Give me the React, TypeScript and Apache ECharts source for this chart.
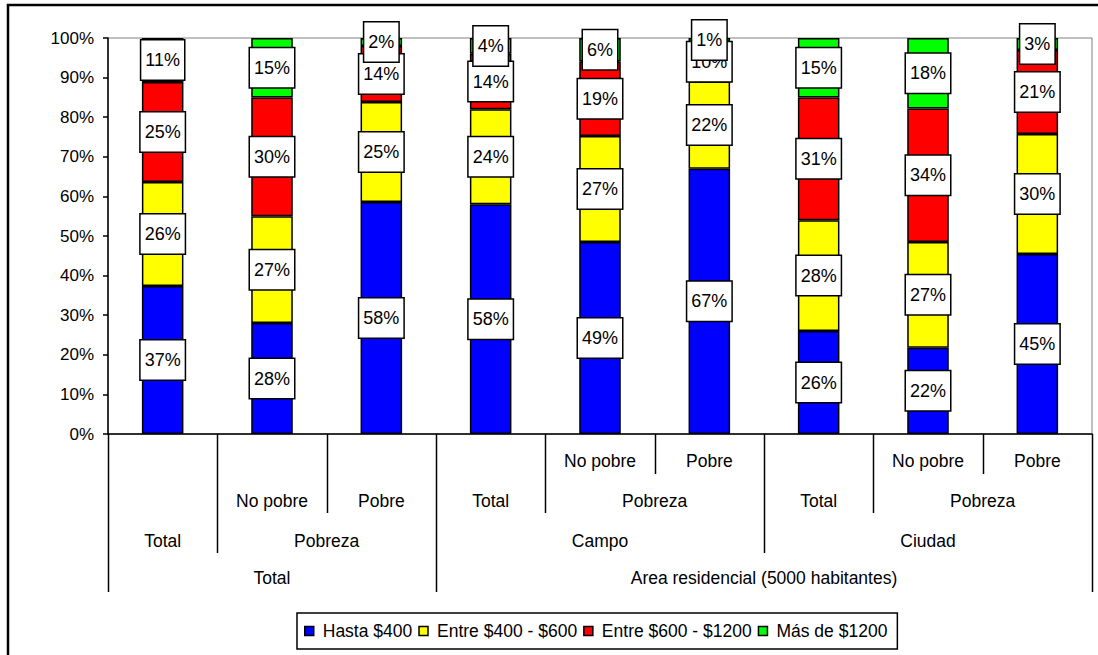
import React, { useEffect, useRef } from "react";
import * as echarts from "echarts";

// Leaf categories (one bar each), listed left to right
const categories = [
  "Total · Total",
  "Total · Pobreza · No pobre",
  "Total · Pobreza · Pobre",
  "Campo · Total",
  "Campo · Pobreza · No pobre",
  "Campo · Pobreza · Pobre",
  "Ciudad · Total",
  "Ciudad · Pobreza · No pobre",
  "Ciudad · Pobreza · Pobre",
];

const seriesNames = ["Hasta $400", "Entre $400 - $600", "Entre $600 - $1200", "Más de $1200"];

// Percent of households per income bracket
const hasta400 = [37, 28, 58, 58, 49, 67, 26, 22, 45];
const entre400y600 = [26, 27, 25, 24, 27, 22, 28, 27, 30];
const entre600y1200 = [25, 30, 14, 14, 19, 10, 31, 34, 21];
const masDe1200 = [11, 15, 2, 4, 6, 1, 15, 18, 3];

const yTicks = [0, 10, 20, 30, 40, 50, 60, 70, 80, 90, 100];

// Hierarchical category labels, row by row from the axis downwards: [text, firstIndex, lastIndex]
const labelRow1: [string, number, number][] = [
  ["No pobre", 4, 4],
  ["Pobre", 5, 5],
  ["No pobre", 7, 7],
  ["Pobre", 8, 8],
];
const labelRow2: [string, number, number][] = [
  ["No pobre", 1, 1],
  ["Pobre", 2, 2],
  ["Total", 3, 3],
  ["Pobreza", 4, 5],
  ["Total", 6, 6],
  ["Pobreza", 7, 8],
];
const labelRow3: [string, number, number][] = [
  ["Total", 0, 0],
  ["Pobreza", 1, 2],
  ["Campo", 3, 5],
  ["Ciudad", 6, 8],
];
const labelRow4: [string, number, number][] = [
  ["Total", 0, 2],
  ["Area residencial (5000 habitantes)", 3, 8],
];
// How many label rows each category boundary line reaches down through
const boundaryDepth = [4, 3, 2, 4, 2, 1, 3, 2, 1, 4];

const colors = ["#0000FF", "#FFFF00", "#FF0000", "#00FF00"];
const FONT = '"Liberation Sans", Arial, sans-serif';

export default function App() {
  const ref = useRef<HTMLDivElement>(null);

  useEffect(() => {
    if (!ref.current) return;
    const chart = echarts.init(ref.current, null, { renderer: "svg" });

    const raw = [hasta400, entre400y600, entre600y1200, masDe1200];
    const totals = categories.map((_, i) => raw.reduce((s, arr) => s + arr[i], 0));

    const series = raw.map((arr, si) => ({
      name: seriesNames[si],
      type: "bar",
      stack: "total",
      barWidth: "38%",
      itemStyle: { color: colors[si], borderColor: "#000", borderWidth: 1.5 },
      label: {
        show: true,
        position: "inside",
        color: "#000",
        fontSize: 18,
        fontFamily: FONT,
        backgroundColor: "#fff",
        borderColor: "#000",
        borderWidth: 1.5,
        padding: [11, 4, 10, 4],
        formatter: (p: any) => `${p.data.raw}%`,
      },
      data: arr.map((v, i) => ({ value: (v / totals[i]) * 100, raw: v })),
    }));

    chart.setOption({
      animation: false,
      backgroundColor: "#fff",
      grid: {
        left: 108,
        right: 6,
        top: 38,
        bottom: 221,
        show: true,
        borderColor: "#808080",
        borderWidth: 1,
        backgroundColor: "transparent",
      },
      legend: {
        data: seriesNames,
        left: 297,
        top: 613,
        icon: "rect",
        itemWidth: 9,
        itemHeight: 9,
        itemGap: 6,
        itemStyle: { borderColor: "#000", borderWidth: 1.5 },
        borderColor: "#000",
        borderWidth: 1.5,
        padding: [9, 10, 9, 7],
        textStyle: { fontSize: 17.5, fontFamily: FONT, color: "#000", padding: [0, 0, 0, 4] },
      },
      xAxis: {
        type: "category",
        data: categories,
        axisLine: { lineStyle: { color: "#000", width: 1.5 } },
        axisTick: { show: false },
        axisLabel: { show: false },
      },
      yAxis: {
        type: "value",
        min: yTicks[0],
        max: yTicks[yTicks.length - 1],
        interval: yTicks[1] - yTicks[0],
        axisLine: { show: true, lineStyle: { color: "#000", width: 1.5 } },
        axisTick: { show: true, inside: false, length: 5, lineStyle: { color: "#000", width: 1.5 } },
        splitLine: { show: false },
        axisLabel: {
          formatter: "{value}%",
          fontSize: 17,
          fontFamily: FONT,
          color: "#000",
          margin: 14,
        },
      },
      series,
    });

    // Multi-level category labels and separator lines, positioned from the x axis scale
    const c0 = chart.convertToPixel({ xAxisIndex: 0 }, 0) as number;
    const c1 = chart.convertToPixel({ xAxisIndex: 0 }, 1) as number;
    const band = c1 - c0;
    const axisY = chart.convertToPixel({ yAxisIndex: 0 }, 0) as number;
    const rowText = [461, 501, 541, 578];
    const rowEnd = [474, 513, 553, 592];
    const boundaryX = (k: number) => c0 - band / 2 + k * band;

    const graphic: any[] = [
      {
        type: "rect",
        shape: { x: 8, y: 5, width: 1100, height: 660 },
        style: { fill: "transparent", stroke: "#000", lineWidth: 2.5 },
        silent: true,
      },
    ];
    boundaryDepth.forEach((d, k) => {
      const x = Math.round(boundaryX(k)) + 0.5;
      graphic.push({
        type: "line",
        shape: { x1: x, y1: axisY, x2: x, y2: rowEnd[d - 1] },
        style: { stroke: "#000", lineWidth: 1.5 },
        silent: true,
      });
    });
    [labelRow1, labelRow2, labelRow3, labelRow4].forEach((row, r) => {
      row.forEach(([text, a, b]) => {
        graphic.push({
          type: "text",
          x: (boundaryX(a) + boundaryX(b + 1)) / 2,
          y: rowText[r],
          style: {
            text,
            fill: "#000",
            fontSize: 17.5,
            fontFamily: FONT,
            align: "center",
            verticalAlign: "middle",
          },
          silent: true,
        });
      });
    });
    chart.setOption({ graphic });

    return () => chart.dispose();
  }, []);

  return (
    <div
      ref={ref}
      style={{ position: "absolute", left: 0, top: 0, width: 1098, height: 655 }}
    />
  );
}
